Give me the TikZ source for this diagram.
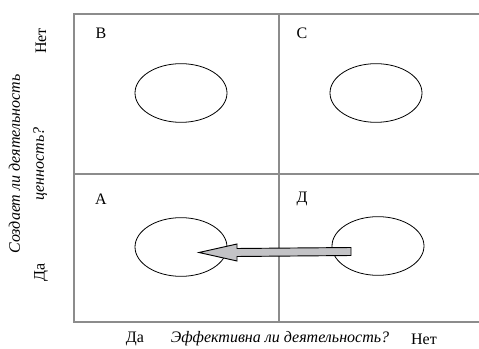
\documentclass[tikz,border=0pt]{standalone}
\usepackage{fontspec}
\setmainfont{Liberation Serif}
\usepackage{tikz}
\usetikzlibrary{shapes.geometric,calc}
\definecolor{framegray}{HTML}{8C8C8C}
\definecolor{arrowgray}{HTML}{C3C3C6}

\begin{document}
\begin{tikzpicture}[x=0.75pt,y=-0.75pt,
  frameline/.style={framegray,line width=1pt},
  oval/.style={draw,ellipse,line width=0.6pt,minimum width=69pt,minimum height=44pt,inner sep=0pt},
  lbl/.style={font=\fontsize{12}{14}\selectfont,inner sep=0pt},
  question/.style={font=\fontsize{12}{18}\selectfont\itshape,inner sep=0pt,align=center}]
  \useasboundingbox (0,0) rectangle (479,349);
  % grid
  \coordinate (tl) at (74,14);
  \coordinate (bl) at (74,322);
  \draw[frameline] (479,14) -- (tl) -- (bl) -- (479,322);
  \draw[frameline] (74,174) -- (479,174);
  \draw[frameline] (279,14) -- (279,322);
  % quadrant letters
  \node[lbl] (qB) at (101,33) {B};
  \node[lbl] (qC) at (302,33) {C};
  \node[lbl] (qA) at (101,199) {А};
  \node[lbl] (qD) at (302,199) {Д};
  % ovals
  \node[oval] (ellB) at (181,93) {};
  \node[oval] (ellC) at (376,93) {};
  \node[oval] (ellA) at (181,247) {};
  \node[oval] (ellD) at (378,246) {};
  % move from D to A
  \draw[fill=arrowgray,line width=0.7pt]
    ($(ellD.center)+(-27,1.5)$) -- ($(ellA.center)+(56,1.5)$) -- ($(ellA.center)+(56,-3)$)
    -- ($(ellA.center)+(18,5.5)$) -- ($(ellA.center)+(56,14)$) -- ($(ellA.center)+(56,9.5)$)
    -- ($(ellD.center)+(-27,9.5)$) -- cycle;
  % axis labels
  \node[lbl,rotate=90] (yNo) at (41,41) {Нет};
  \node[lbl,rotate=90] (yYes) at (41,272) {Да};
  \node[question,rotate=90] (yQ) at (28,164) {Создает ли деятельность\\ценность?};
  \node[lbl] (xYes) at (135,339) {Да};
  \node[question] (xQ) at (280,339) {Эффективна ли деятельность?};
  \node[lbl] (xNo) at (424,339) {Нет};
\end{tikzpicture}
\end{document}
